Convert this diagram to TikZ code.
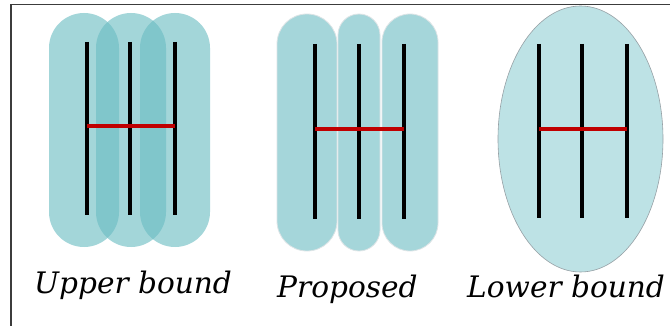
\documentclass[tikz,border=0pt]{standalone}
\usepackage{fontspec}
\setmainfont{DejaVu Serif}
\definecolor{capc}{RGB}{107,189,195}
\definecolor{pcapc}{RGB}{165,214,218}
\definecolor{pcapb}{RGB}{220,228,230}
\definecolor{ovalc}{RGB}{189,226,229}
\definecolor{ovalb}{RGB}{150,160,165}
\definecolor{framec}{RGB}{60,60,60}
\definecolor{linkc}{RGB}{192,0,0}
\begin{document}
\begin{tikzpicture}[x=1pt,y=-1pt,
  ubcapsule/.style={fill=capc,fill opacity=0.62},
  prcapsule/.style={fill=pcapc,draw=pcapb,line width=0.8pt},
  lboval/.style={fill=ovalc,draw=ovalb,line width=0.6pt},
  wire/.style={line width=3.3pt,black},
  redlink/.style={line width=3.3pt,linkc},
  lbl/.style={anchor=base west,inner sep=0pt,font=\fontsize{29.6}{34}\selectfont\itshape}]
\useasboundingbox (0,0) rectangle (670,326);
\fill[white] (0,0) rectangle (670,326);
\draw[line width=1.6pt,framec] (11,326) -- (11,4.5) -- (670,4.5);
% Upper bound
\fill[ubcapsule,rounded corners=35pt] (49,13) rectangle (119,247);
\fill[ubcapsule,rounded corners=35pt] (96,13) rectangle (166,247);
\fill[ubcapsule,rounded corners=35pt] (140,13) rectangle (210,247);
\foreach \n/\x in {ua/87,ub/130,uc/175}{
  \coordinate (\n t) at (\x,42); \coordinate (\n b) at (\x,215); \coordinate (\n m) at (\x,126);
  \draw[wire] (\n t) -- (\n b);}
\draw[redlink] (uam) -- (ucm);
% Proposed
\filldraw[prcapsule,rounded corners=30pt] (277,14) rectangle (337,251);
\filldraw[prcapsule,rounded corners=21pt] (338,14) rectangle (380,251);
\filldraw[prcapsule,rounded corners=28pt] (382,14) rectangle (438,251);
\foreach \n/\x in {pa/315,pb/359,pc/404}{
  \coordinate (\n t) at (\x,44); \coordinate (\n b) at (\x,219); \coordinate (\n m) at (\x,129);
  \draw[wire] (\n t) -- (\n b);}
\draw[redlink] (pam) -- (pcm);
% Lower bound
\filldraw[lboval] (580.5,139) ellipse [x radius=82.5, y radius=133];
\foreach \n/\x in {la/539,lb/582,lc/627}{
  \coordinate (\n t) at (\x,44); \coordinate (\n b) at (\x,218); \coordinate (\n m) at (\x,129);
  \draw[wire] (\n t) -- (\n b);}
\draw[redlink] (lam) -- (lcm);
% labels
\node[lbl] (t1) at (34,293) {Upper bound};
\node[lbl] (t2) at (277,298) {Proposed};
\node[lbl] (t3) at (467,298) {Lower bound};
\end{tikzpicture}
\end{document}
